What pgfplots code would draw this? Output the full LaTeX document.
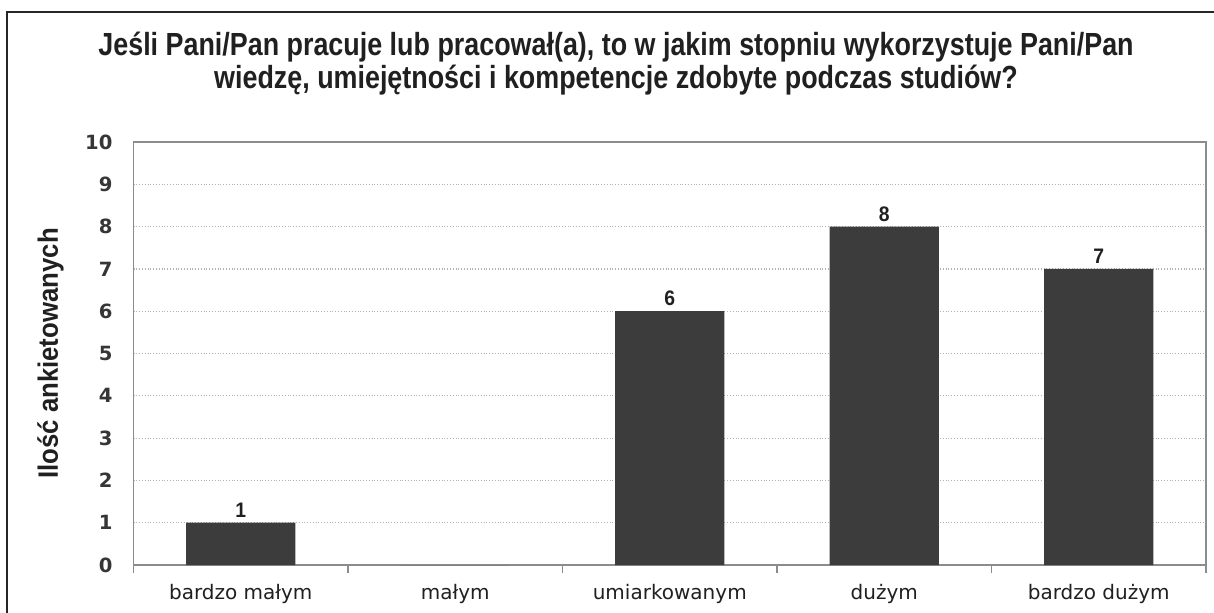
\documentclass[border=0pt]{standalone}
\usepackage{pgfplots}
\pgfplotsset{compat=1.18}
\usepackage{fontspec}
\setmainfont{DejaVu Sans}
\newfontfamily\titlefont[FakeStretch=0.84]{Liberation Sans}
\newfontfamily\labfont[FakeStretch=0.92]{Liberation Sans}
\definecolor{barcol}{HTML}{3C3C3C}
\definecolor{txt}{HTML}{202020}
\begin{document}
\begin{tikzpicture}
\useasboundingbox (0,0) rectangle (607pt,306pt);
\fill[white] (0,0) rectangle (607pt,306pt);
\draw[line width=1.3pt, color=black!85] (3.5pt,-5pt) -- (3.5pt,300pt) -- (615pt,300pt);
\node[align=center, font=\titlefont\bfseries\fontsize{16}{16.5}\selectfont, text=txt] at (308pt,274pt)
  {Jeśli Pani/Pan pracuje lub pracował(a), to w jakim stopniu wykorzystuje Pani/Pan\\
   wiedzę, umiejętności i kompetencje zdobyte podczas studiów?};
\begin{axis}[
  at={(66.75pt,23.5pt)}, anchor=south west,
  scale only axis, width=536.25pt, height=211.5pt,
  xmin=-0.5, xmax=4.5, ymin=0, ymax=10,
  ytick={0,1,...,10},
  xtick={0,1,2,3,4},
  xticklabels={bardzo małym, małym, umiarkowanym, dużym, bardzo dużym},
  minor xtick={-0.5,0.5,1.5,2.5,3.5,4.5},
  major tick length=0pt,
  minor tick length=4pt,
  tick align=outside,
  xtick pos=bottom, ytick pos=left,
  every minor tick/.style={draw=black!45, line width=0.6pt},
  ymajorgrids,
  grid style={densely dotted, draw=black!30, line width=0.6pt},
  axis line style={draw=black!45, line width=0.8pt},
  /pgf/number format/assume math mode=true,
  yticklabel style={font=\bfseries\fontsize{9.8}{11}\selectfont, text=txt!90, xshift=-7pt},
  xticklabel style={font=\fontsize{10}{11}\selectfont, text=txt, yshift=-6pt},
  ylabel={Ilość ankietowanych},
  every axis y label/.style={at={(rel axis cs:0,0.5)}, rotate=90, anchor=center, yshift=41.5pt,
     font=\labfont\bfseries\fontsize{14}{15}\selectfont, text=txt},
]
\addplot[ybar, bar width=0.51, fill=barcol, draw=none,
  nodes near coords={\pgfmathfloatifflags{\pgfplotspointmeta}{0}{}{\pgfmathprintnumber{\pgfplotspointmeta}}},
  every node near coord/.append style={font=\labfont\bfseries\fontsize{10.5}{11}\selectfont, text=txt, yshift=-1pt}]
  coordinates {(0,1) (1,0) (2,6) (3,8) (4,7)};
\end{axis}
\end{tikzpicture}
\end{document}
